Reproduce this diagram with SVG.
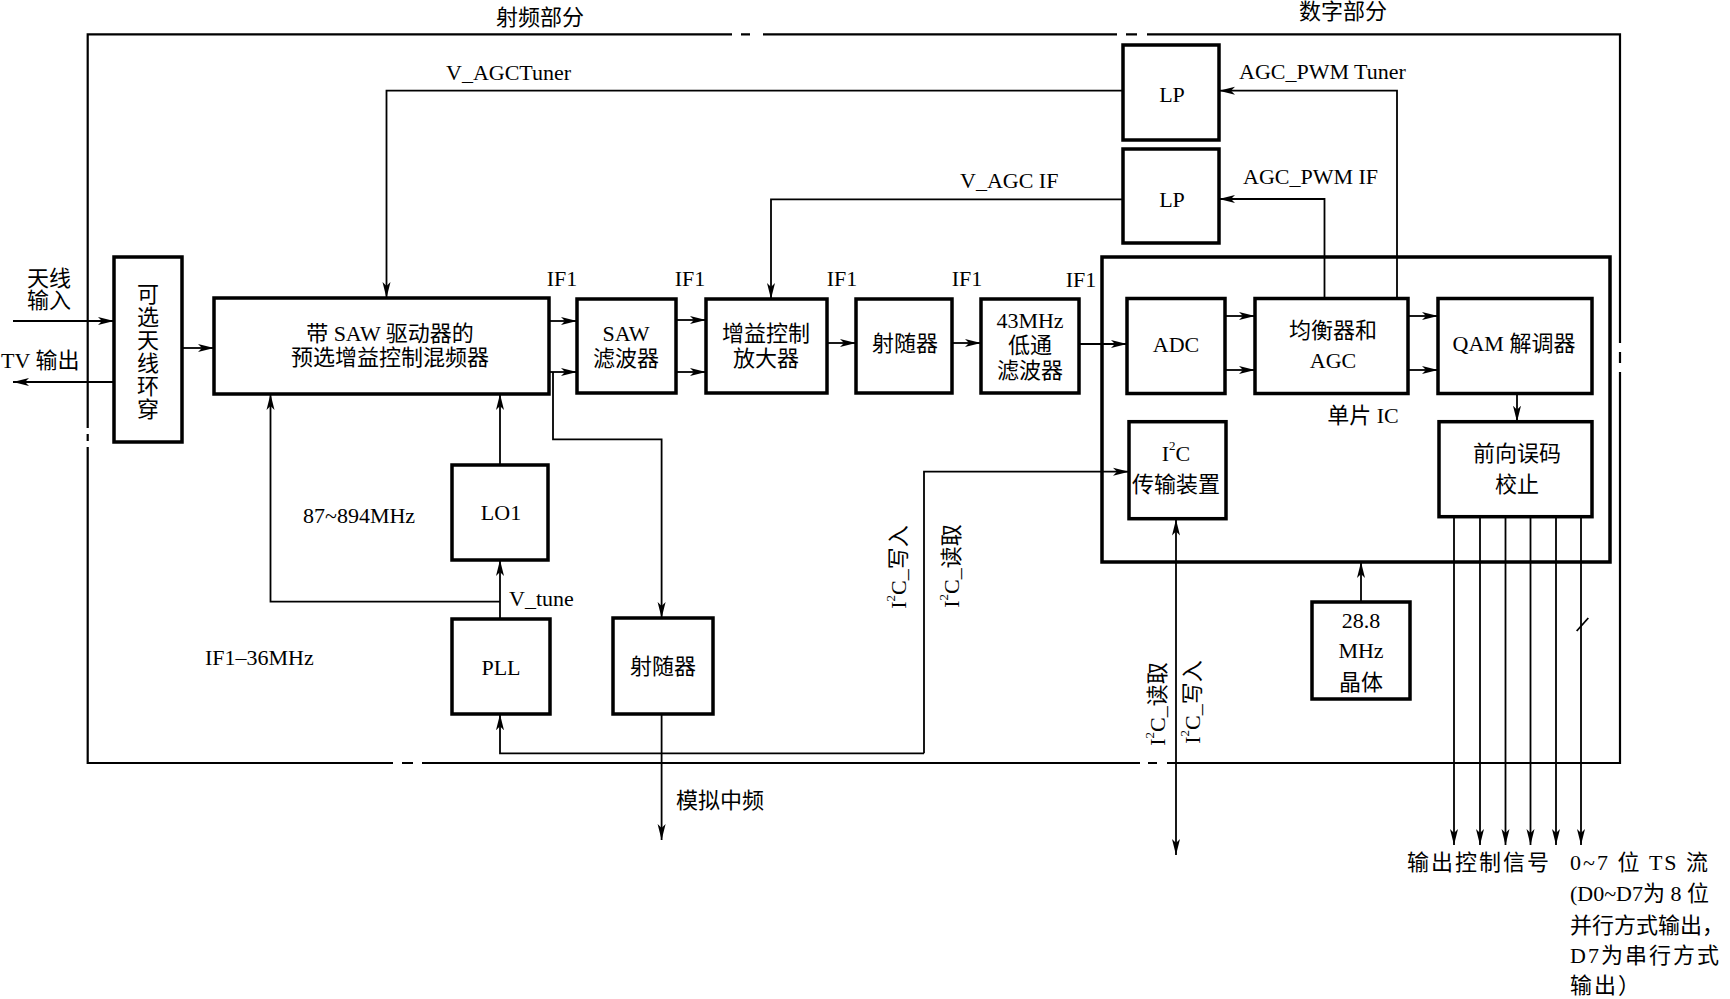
<svg xmlns="http://www.w3.org/2000/svg" width="1730" height="999" viewBox="0 0 1730 999">
<style>
.box{fill:#fff;stroke:#000;stroke-width:3.5}
.ln{fill:none;stroke:#000;stroke-width:1.8}
.fr{fill:none;stroke:#000;stroke-width:2.2}
.t{font-family:"Liberation Serif","Noto Sans CJK SC",serif;font-size:22px;fill:#000;text-anchor:middle;dominant-baseline:central}
.s{text-anchor:start}
.w{letter-spacing:2px}
</style>
<defs>
<marker id="ah" markerUnits="userSpaceOnUse" markerWidth="17" markerHeight="10" refX="16" refY="5" orient="auto">
<path d="M0,1 L16,5 L0,9 L4,5 z" fill="#000"/>
</marker>
<marker id="ahs" markerUnits="userSpaceOnUse" markerWidth="17" markerHeight="10" refX="1" refY="5" orient="auto">
<path d="M17,1 L1,5 L17,9 L13,5 z" fill="#000"/>
</marker>
</defs>
<rect width="1730" height="999" fill="#fff"/>

<g id="frame">
<path class="fr" d="M87.7,428 V34.3 H732 M741,34.3 H750 M763,34.3 H1117 M1126,34.3 H1137 M1147,34.3 H1620 V343 M1620,352 V363 M1620,372 V763 H1167 M1157,763 H1148 M1140,763 H422 M413,763 H402 M393,763 H87.7 V447 M87.7,441 V434"/>
</g>

<g id="labels-sections">
<text class="t" x="540" y="17">射频部分</text>
<text class="t" x="1343" y="11">数字部分</text>
</g>

<g id="connectors">
<path class="ln" d="M13,321 H114" marker-end="url(#ah)"/>
<path class="ln" d="M114,382 H13" marker-end="url(#ah)"/>
<path class="ln" d="M182,348 H214" marker-end="url(#ah)"/>
<path class="ln" d="M549,321 H577" marker-end="url(#ah)"/>
<path class="ln" d="M549,372 H577" marker-end="url(#ah)"/>
<path class="ln" d="M676,320 H706" marker-end="url(#ah)"/>
<path class="ln" d="M676,372 H706" marker-end="url(#ah)"/>
<path class="ln" d="M827,343 H856" marker-end="url(#ah)"/>
<path class="ln" d="M952,343 H981" marker-end="url(#ah)"/>
<path class="ln" d="M1079,344 H1127" marker-end="url(#ah)"/>
<path class="ln" d="M1225,316 H1255" marker-end="url(#ah)"/>
<path class="ln" d="M1225,370 H1255" marker-end="url(#ah)"/>
<path class="ln" d="M1408,316 H1438" marker-end="url(#ah)"/>
<path class="ln" d="M1408,370 H1438" marker-end="url(#ah)"/>
<path class="ln" d="M1517,394 V421.7" marker-end="url(#ah)"/>
<path class="ln" d="M1397,298.5 V90.7 H1219" marker-end="url(#ah)"/>
<path class="ln" d="M1324.5,298.5 V199 H1219" marker-end="url(#ah)"/>
<path class="ln" d="M1123,90.7 H386.5 V298" marker-end="url(#ah)"/>
<path class="ln" d="M1123,199.3 H771 V299" marker-end="url(#ah)"/>
<path class="ln" d="M500,465 V394" marker-end="url(#ah)"/>
<path class="ln" d="M500,619 V560" marker-end="url(#ah)"/>
<path class="ln" d="M500,601.7 H270.5 V394" marker-end="url(#ah)"/>
<path class="ln" d="M553,372 V439.3 H661.6 V618" marker-end="url(#ah)"/>
<path class="ln" d="M661.6,714 V840" marker-end="url(#ah)"/>
<path class="ln" d="M924,753.3 V471.7 H1129" marker-end="url(#ah)"/>
<path class="ln" d="M924,753.3 H500 V714.3" marker-end="url(#ah)"/>
<path class="ln" d="M1176,519.5 V855" marker-start="url(#ahs)" marker-end="url(#ah)"/>
<path class="ln" d="M1361,602 V562" marker-end="url(#ah)"/>
<path class="ln" d="M1454,516.6 V845" marker-end="url(#ah)"/>
<path class="ln" d="M1480,516.6 V845" marker-end="url(#ah)"/>
<path class="ln" d="M1505.5,516.6 V845" marker-end="url(#ah)"/>
<path class="ln" d="M1530.5,516.6 V845" marker-end="url(#ah)"/>
<path class="ln" d="M1556,516.6 V845" marker-end="url(#ah)"/>
<path class="ln" d="M1581,516.6 V845" marker-end="url(#ah)"/>
<path class="ln" d="M1576.7,631 L1588.3,618"/>
</g>

<g id="ic">
<rect class="box" x="1102" y="257" width="508" height="305" style="fill:none"/>
<text class="t" x="1363" y="415">单片 IC</text>
</g>

<g id="antenna">
<rect class="box" x="114" y="257" width="68" height="185"/>
<text class="t" x="148" y="294">可</text>
<text class="t" x="148" y="317">选</text>
<text class="t" x="148" y="340">天</text>
<text class="t" x="148" y="363">线</text>
<text class="t" x="148" y="386">环</text>
<text class="t" x="148" y="409">穿</text>
</g>
<g id="mixer">
<rect class="box" x="214" y="298" width="335" height="96"/>
<text class="t" x="390" y="333">带 SAW 驱动器的</text>
<text class="t" x="390" y="357">预选增益控制混频器</text>
</g>
<g id="saw">
<rect class="box" x="577" y="299" width="99" height="94"/>
<text class="t" x="626" y="333">SAW</text>
<text class="t" x="626" y="358">滤波器</text>
</g>
<g id="gainamp">
<rect class="box" x="706" y="299" width="121" height="94"/>
<text class="t" x="766" y="333">增益控制</text>
<text class="t" x="766" y="358">放大器</text>
</g>
<g id="follower1">
<rect class="box" x="856" y="299" width="96" height="94"/>
<text class="t" x="905" y="343">射随器</text>
</g>
<g id="lpf43">
<rect class="box" x="981" y="299" width="98" height="94"/>
<text class="t" x="1030" y="320">43MHz</text>
<text class="t" x="1030" y="345">低通</text>
<text class="t" x="1030" y="370">滤波器</text>
</g>
<g id="lp1">
<rect class="box" x="1123" y="45" width="96" height="95"/>
<text class="t" x="1172" y="94">LP</text>
</g>
<g id="lp2">
<rect class="box" x="1123" y="149" width="96" height="94"/>
<text class="t" x="1172" y="199">LP</text>
</g>
<g id="adc">
<rect class="box" x="1127" y="298.5" width="98" height="95"/>
<text class="t" x="1176" y="344">ADC</text>
</g>
<g id="eq">
<rect class="box" x="1255" y="298.5" width="153" height="95"/>
<text class="t" x="1333" y="330">均衡器和</text>
<text class="t" x="1333" y="360">AGC</text>
</g>
<g id="qam">
<rect class="box" x="1438" y="298.5" width="154" height="95"/>
<text class="t" x="1514" y="343">QAM 解调器</text>
</g>
<g id="fec">
<rect class="box" x="1439" y="421.7" width="153" height="95"/>
<text class="t" x="1517" y="453">前向误码</text>
<text class="t" x="1517" y="484">校止</text>
</g>
<g id="i2c">
<rect class="box" x="1129" y="421.7" width="97" height="97"/>
<text class="t" x="1176" y="453">I<tspan font-size="13" dy="-8">2</tspan><tspan dy="8">C</tspan></text>
<text class="t" x="1176" y="484">传输装置</text>
</g>
<g id="lo1">
<rect class="box" x="452" y="465" width="96" height="95"/>
<text class="t" x="501" y="512">LO1</text>
</g>
<g id="pll">
<rect class="box" x="452" y="619" width="98" height="95"/>
<text class="t" x="501" y="667">PLL</text>
</g>
<g id="follower2">
<rect class="box" x="613" y="618" width="100" height="96"/>
<text class="t" x="663" y="666">射随器</text>
</g>
<g id="crystal">
<rect class="box" x="1312" y="602" width="98" height="97"/>
<text class="t" x="1361" y="620">28.8</text>
<text class="t" x="1361" y="650">MHz</text>
<text class="t" x="1361" y="682">晶体</text>
</g>

<g id="labels">
<text class="t s" x="446" y="72">V_AGCTuner</text>
<text class="t s" x="960" y="180">V_AGC IF</text>
<text class="t s" x="1239" y="71">AGC_PWM Tuner</text>
<text class="t s" x="1243" y="176">AGC_PWM IF</text>
<text class="t" x="562" y="278">IF1</text>
<text class="t" x="690" y="278">IF1</text>
<text class="t" x="842" y="278">IF1</text>
<text class="t" x="967" y="278">IF1</text>
<text class="t" x="1081" y="279">IF1</text>
<text class="t" x="49" y="278">天线</text>
<text class="t" x="49" y="300">输入</text>
<text class="t s" x="1" y="360">TV 输出</text>
<text class="t s" x="303" y="515">87~894MHz</text>
<text class="t s" x="509" y="598">V_tune</text>
<text class="t s" x="205" y="657">IF1–36MHz</text>
<text class="t s" x="676" y="800">模拟中频</text>
<text class="t" transform="translate(898,567) rotate(-90)">I<tspan font-size="13" dy="-8">2</tspan><tspan dy="8">C_写入</tspan></text>
<text class="t" transform="translate(951,566) rotate(-90)">I<tspan font-size="13" dy="-8">2</tspan><tspan dy="8">C_读取</tspan></text>
<text class="t" transform="translate(1157,704) rotate(-90)">I<tspan font-size="13" dy="-8">2</tspan><tspan dy="8">C_读取</tspan></text>
<text class="t" transform="translate(1192,702) rotate(-90)">I<tspan font-size="13" dy="-8">2</tspan><tspan dy="8">C_写入</tspan></text>
<text class="t s w" x="1407" y="862">输出控制信号</text>
<text class="t s w" x="1570" y="862">0~7 位 TS 流</text>
<text class="t s" x="1570" y="893">(D0~D7为 8 位</text>
<text class="t s" x="1570" y="925">并行方式输出，</text>
<text class="t s w" x="1570" y="955">D7为串行方式</text>
<text class="t s w" x="1570" y="985">输出）</text>
</g>
</svg>
